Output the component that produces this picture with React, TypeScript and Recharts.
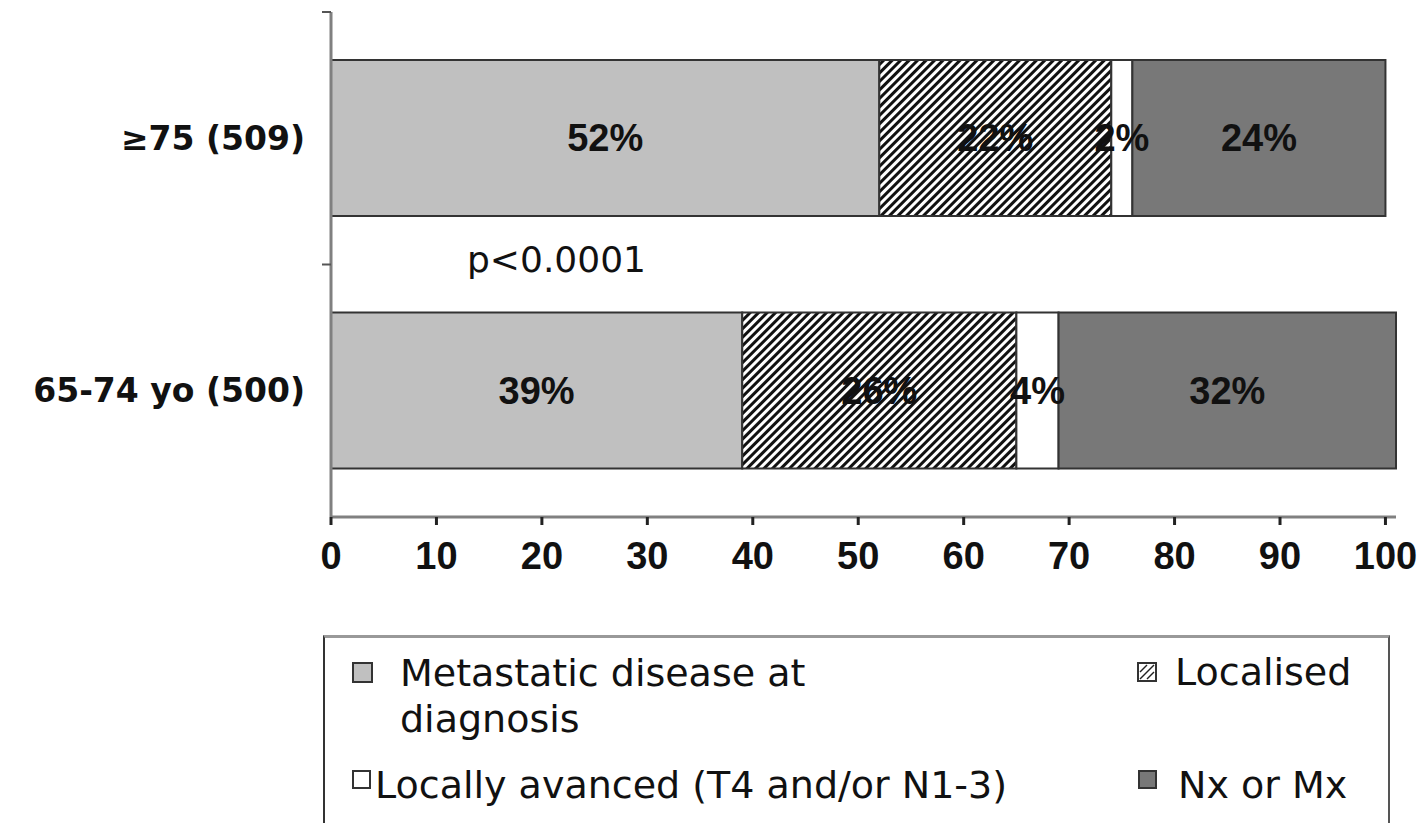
import { BarChart, Bar, XAxis, YAxis, LabelList, Legend } from 'recharts'

const categories = ['≥75 (509)', '65-74 yo (500)']
const metastatic = [52, 39]
const localised = [22, 26]
const locallyAdvanced = [2, 4]
const nxMx = [24, 32]
const xTicks = [0, 10, 20, 30, 40, 50, 60, 70, 80, 90, 100]
const seriesNames = [
  'Metastatic disease at diagnosis',
  'Localised',
  'Locally avanced (T4 and/or N1-3)',
  'Nx or Mx',
]
const pValue = 'p<0.0001'

const data = categories.map((cat, i) => ({
  cat,
  metastatic: metastatic[i],
  localised: localised[i],
  locallyAdvanced: locallyAdvanced[i],
  nxMx: nxMx[i],
}))

const LIGHT = '#c0c0c0'
const DARK = '#787878'
const EDGE = '#333'
const labelFont = { fill: '#111', fontSize: 38, fontWeight: 700, fontFamily: '"Liberation Sans", Arial, sans-serif' }
const legendFont = { fontFamily: '"DejaVu Sans", sans-serif', fontSize: 38, lineHeight: '46px', color: '#111', whiteSpace: 'nowrap' as const }

function YTick({ x, y, payload }: any) {
  const half = payload?.offset ?? 0
  const axisX = x + 26
  return (
    <g>
      <text
        x={x}
        y={y}
        textAnchor="end"
        dominantBaseline="central"
        fill="#111"
        fontSize={33}
        fontWeight={700}
        fontFamily='"DejaVu Sans", sans-serif'
      >
        {payload.value}
      </text>
      {half > 0 && <line x1={axisX - 9} x2={axisX} y1={y - half} y2={y - half} stroke="#555" strokeWidth={2} />}
    </g>
  )
}

function Swatch({ kind, size }: { kind: number; size: number }) {
  if (kind === 1) {
    return (
      <svg width={size} height={size} style={{ display: 'block' }}>
        <rect x={1} y={1} width={size - 2} height={size - 2} fill="#fff" stroke={EDGE} strokeWidth={2} />
        <line x1={3} y1={size - 3} x2={size - 3} y2={3} stroke="#222" strokeWidth={1.5} />
        <line x1={3} y1={size / 2} x2={size / 2} y2={3} stroke="#222" strokeWidth={1.5} />
        <line x1={size / 2} y1={size - 3} x2={size - 3} y2={size / 2} stroke="#222" strokeWidth={1.5} />
      </svg>
    )
  }
  const fill = kind === 0 ? LIGHT : kind === 2 ? '#fff' : DARK
  return (
    <div style={{ width: size, height: size, boxSizing: 'border-box', border: `2px solid ${EDGE}`, background: fill }} />
  )
}

function LegendBox() {
  const abs = (left: number, top: number) => ({ position: 'absolute' as const, left, top })
  return (
    <div style={{ position: 'relative', width: 1067, height: 200, boxSizing: 'border-box', borderTop: '3px solid #999', borderLeft: '2px solid #333', borderRight: '2px solid #555' }}>
      <div style={abs(27, 24)}><Swatch kind={0} size={21} /></div>
      <div style={{ ...abs(75, 12), ...legendFont }}>
        <div>Metastatic disease at</div>
        <div>diagnosis</div>
      </div>
      <div style={abs(812, 24)}><Swatch kind={1} size={20} /></div>
      <div style={{ ...abs(850, 11), ...legendFont }}>{seriesNames[1]}</div>
      <div style={abs(27, 132)}><Swatch kind={2} size={19} /></div>
      <div style={{ ...abs(50, 124), ...legendFont }}>{seriesNames[2]}</div>
      <div style={abs(813, 132)}><Swatch kind={3} size={19} /></div>
      <div style={{ ...abs(853, 124), ...legendFont }}>{seriesNames[3]}</div>
    </div>
  )
}

export default function App() {
  return (
    <div style={{ position: 'absolute', left: 0, top: 0, width: 1425, height: 823, overflow: 'hidden', background: '#fff' }}>
      <BarChart
        width={1425}
        height={823}
        layout="vertical"
        data={data}
        margin={{ top: 12, right: 29, bottom: 0, left: 0 }}
      >
        <defs>
          <pattern id="hatch" patternUnits="userSpaceOnUse" width={6} height={6} patternTransform="rotate(45)">
            <rect width={6} height={6} fill="#fff" />
            <line x1={1.5} y1={0} x2={1.5} y2={6} stroke="#111" strokeWidth={3} />
          </pattern>
        </defs>
        <XAxis
          type="number"
          domain={[0, 101]}
          ticks={xTicks}
          interval={0}
          height={306}
          axisLine={{ stroke: '#808080', strokeWidth: 3 }}
          tickLine={{ stroke: '#222', strokeWidth: 3 }}
          tickSize={8}
          tickMargin={17}
          tick={labelFont}
        />
        <YAxis
          type="category"
          dataKey="cat"
          width={331}
          axisLine={{ stroke: '#808080', strokeWidth: 3 }}
          tickLine={false}
          tickSize={0}
          tickMargin={26}
          tick={<YTick />}
        />
        <Legend
          layout="vertical"
          align="center"
          verticalAlign="middle"
          wrapperStyle={{ left: 323, top: 635, width: 1067, height: 200 }}
          content={() => <LegendBox />}
        />
        <Bar dataKey="metastatic" name={seriesNames[0]} stackId="s" barSize={156} fill={LIGHT} stroke={EDGE} strokeWidth={2} isAnimationActive={false}>
          <LabelList dataKey="metastatic" position="center" formatter={(v: any) => `${v}%`} {...labelFont} />
        </Bar>
        <Bar dataKey="localised" name={seriesNames[1]} stackId="s" barSize={156} fill="url(#hatch)" stroke={EDGE} strokeWidth={2} isAnimationActive={false}>
          <LabelList dataKey="localised" position="center" formatter={(v: any) => `${v}%`} {...labelFont} />
        </Bar>
        <Bar dataKey="locallyAdvanced" name={seriesNames[2]} stackId="s" barSize={156} fill="#fff" stroke={EDGE} strokeWidth={2} isAnimationActive={false}>
          <LabelList dataKey="locallyAdvanced" position="center" formatter={(v: any) => `${v}%`} {...labelFont} />
        </Bar>
        <Bar dataKey="nxMx" name={seriesNames[3]} stackId="s" barSize={156} fill={DARK} stroke={EDGE} strokeWidth={2} isAnimationActive={false}>
          <LabelList dataKey="nxMx" position="center" formatter={(v: any) => `${v}%`} {...labelFont} />
        </Bar>
      </BarChart>
      <div style={{ position: 'absolute', left: 467, top: 242, fontFamily: '"DejaVu Sans", sans-serif', fontSize: 36, lineHeight: '36px', color: '#111' }}>
        {pValue}
      </div>
    </div>
  )
}
